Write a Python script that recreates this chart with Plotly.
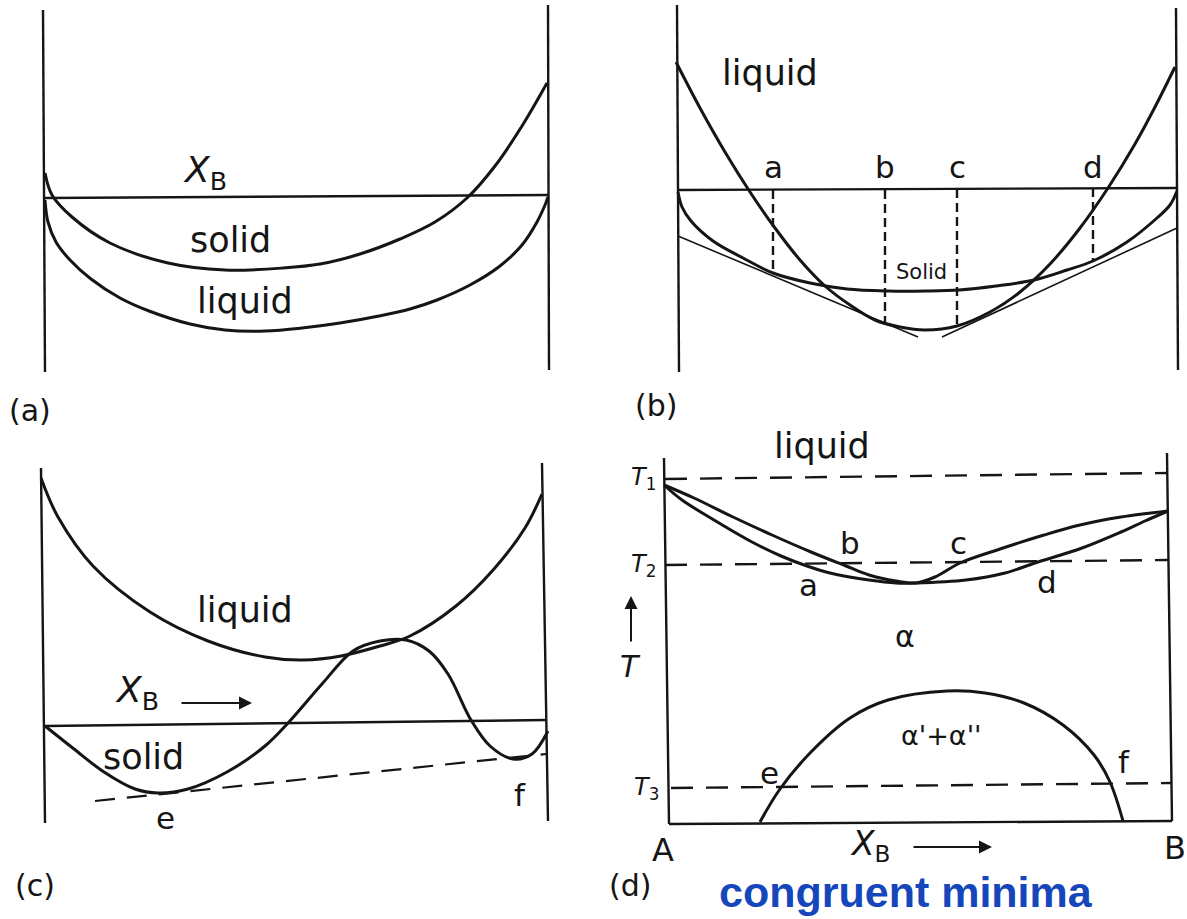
import plotly.graph_objects as go

W, H = 1187, 919
INK = "#151515"
BLUE = "#1546BC"
FONT = "DejaVu Sans"

# ---------------- panel (a): solid and liquid free-energy curves ----------------
a_left_x, a_left_y = [43, 45], [10, 372]
a_right_x, a_right_y = [548, 549], [5, 370]
a_base_x, a_base_y = [45, 548], [198, 195]
a_solid_x = [45, 52, 72, 110, 168, 225, 283, 320, 360, 400, 435, 467, 495, 522, 547]
a_solid_y = [173, 195, 217, 243, 263, 270, 268, 264, 254, 239, 222, 198, 166, 126, 83]
a_liquid_x = [45, 48, 56, 70, 91, 120, 149, 190, 225, 265, 302, 340, 379, 410,
              437, 470, 500, 522, 537, 545, 548]
a_liquid_y = [200, 222, 242, 260, 279, 298, 311, 324, 330, 331, 328, 323, 316, 309,
              300, 285, 266, 245, 222, 205, 197]

# ---------------- panel (b): common tangents a-b and c-d ----------------
b_left_x, b_left_y = [677, 679], [5, 372]
b_right_x, b_right_y = [1176, 1178], [8, 370]
b_base_x, b_base_y = [678, 1177], [190, 188]
b_liquid_x = [676, 700, 725, 750, 775, 800, 825, 850, 875, 900, 925,
              957, 990, 1020, 1050, 1080, 1108, 1135, 1155, 1175]
b_liquid_y = [62, 108, 152, 192, 228, 260, 286, 305, 320, 327, 330,
              326, 312, 292, 264, 228, 188, 144, 107, 67]
b_solid_x = [678, 682, 691, 713, 743, 773, 810, 847, 888, 926, 959, 996,
             1034, 1067, 1093, 1127, 1157, 1170, 1177]
b_solid_y = [192, 207, 221, 241, 258, 273, 283, 289, 291, 291, 290, 286,
             280, 270, 261, 242, 218, 205, 191]
b_tan1_x, b_tan1_y = [678, 918], [236, 337]
b_tan2_x, b_tan2_y = [1177, 942], [228, 337]
b_drop_x = [773, 885, 957, 1093]
b_drop_top = [190, 190, 189, 188]
b_drop_bottom = [273, 322, 326, 261]
b_drop_labels = ["a", "b", "c", "d"]

# ---------------- panel (c): solid curve with two minima ----------------
c_left_x, c_left_y = [41, 45], [468, 823]
c_right_x, c_right_y = [542, 548], [463, 821]
c_base_x, c_base_y = [45, 546], [726, 720]
c_liquid_x = [41, 58, 93, 150, 208, 265, 303, 341, 380, 410, 456, 494, 525, 542]
c_liquid_y = [478, 517, 566, 612, 641, 657, 660, 656, 646, 636, 606, 569, 528, 494]
c_solid_x = [45, 74, 104, 135, 158, 188, 227, 265, 288, 322, 353, 380, 406,
             429, 448, 471, 490, 513, 532, 548]
c_solid_y = [726, 749, 772, 789, 793, 789, 772, 746, 723, 684, 651, 641, 640,
             651, 674, 720, 746, 759, 754, 731]
c_tan_x, c_tan_y = [95, 546], [801, 754]

# ---------------- panel (d): phase diagram with congruent minimum ----------------
d_left_x, d_left_y = [664, 669], [458, 824]
d_right_x, d_right_y = [1167, 1172], [453, 821]
d_bottom_x, d_bottom_y = [669, 1172], [824, 821]
d_iso_x0 = [665, 665, 671]
d_iso_x1 = [1168, 1168, 1172]
d_iso_y0 = [479, 565, 788]
d_iso_y1 = [473, 560, 783]
d_upper_x = [664, 694, 733, 772, 811, 846, 869, 896, 916, 935, 960, 1000,
             1044, 1080, 1121, 1168]
d_upper_y = [485, 498, 517, 535, 552, 566, 575, 581, 583, 577, 563, 549,
             535, 525, 517, 511]
d_lower_x = [664, 682, 714, 752, 781, 807, 830, 869, 896, 916, 966, 1005,
             1035, 1082, 1121, 1145, 1168]
d_lower_y = [485, 500, 520, 542, 556, 566, 573, 580, 583, 583, 580, 573,
             563, 548, 532, 521, 511]
d_dome_x = [760, 780, 811, 850, 888, 947, 985, 1024, 1063, 1094, 1110, 1123]
d_dome_y = [822, 789, 752, 718, 700, 691, 693, 703, 725, 755, 782, 821]

fig = go.Figure()


def line(x, y, width=2.6, dash=None, smooth=False):
    fig.add_trace(go.Scatter(
        x=x, y=y, mode="lines", hoverinfo="skip", showlegend=False,
        line=dict(color=INK, width=width, dash=dash,
                  shape="spline" if smooth else "linear",
                  smoothing=1.0 if smooth else None),
    ))


# frames and reference lines
for fx, fy in [(a_left_x, a_left_y), (a_right_x, a_right_y),
               (b_left_x, b_left_y), (b_right_x, b_right_y),
               (c_left_x, c_left_y), (c_right_x, c_right_y),
               (d_left_x, d_left_y), (d_right_x, d_right_y),
               (d_bottom_x, d_bottom_y)]:
    line(fx, fy, width=2.4)
line(a_base_x, a_base_y, width=2.4)
line(b_base_x, b_base_y, width=2.4)
line(c_base_x, c_base_y, width=2.4)

# panel (a) curves
line(a_solid_x, a_solid_y, width=3, smooth=True)
line(a_liquid_x, a_liquid_y, width=3, smooth=True)

# panel (b) curves, tangents and drop lines
line(b_liquid_x, b_liquid_y, width=3, smooth=True)
line(b_solid_x, b_solid_y, width=3, smooth=True)
line(b_tan1_x, b_tan1_y, width=1.6)
line(b_tan2_x, b_tan2_y, width=1.6)
for dx, dt, db in zip(b_drop_x, b_drop_top, b_drop_bottom):
    line([dx, dx], [dt, db], width=2.4, dash="9px,5px")

# panel (c) curves
line(c_liquid_x, c_liquid_y, width=3, smooth=True)
line(c_solid_x, c_solid_y, width=3, smooth=True)
line(c_tan_x, c_tan_y, width=2.2, dash="20px,12px")

# panel (d) curves
for x0, x1, y0, y1 in zip(d_iso_x0, d_iso_x1, d_iso_y0, d_iso_y1):
    line([x0, x1], [y0, y1], width=2.4, dash="22px,13px")
line(d_upper_x, d_upper_y, width=3, smooth=True)
line(d_lower_x, d_lower_y, width=3, smooth=True)
line(d_dome_x, d_dome_y, width=3, smooth=True)

# ---------------- text ----------------
ann = []


def label(x, y, text, size=34, family=FONT, color=INK, bold=False):
    ann.append(dict(x=x, y=y, xref="x", yref="y", text=f"<b>{text}</b>" if bold else text,
                    showarrow=False, font=dict(family=family, size=size, color=color),
                    xanchor="center", yanchor="middle"))


def arrow(x0, y0, x1, y1):
    ann.append(dict(x=x1, y=y1, ax=x0, ay=y0, xref="x", yref="y", axref="x", ayref="y",
                    text="", showarrow=True, arrowhead=2, arrowsize=1.3,
                    arrowwidth=2, arrowcolor=INK, font=dict(size=12)))


XB = "<i>X</i><sub>B</sub>"

# (a)
label(205, 172, XB, size=36)
label(230, 240, "solid", size=35)
label(245, 301, "liquid", size=35)
label(30, 410, "(a)", size=30)

# (b)
label(770, 73, "liquid", size=35)
for dx, name in zip(b_drop_x, b_drop_labels):
    label(dx, 167, name, size=31)
label(921, 272, "Solid", size=21)
label(656, 405, "(b)", size=30)

# (c)
label(245, 610, "liquid", size=35)
label(137, 692, XB, size=36)
arrow(180, 703, 252, 703)
label(143, 757, "solid", size=35)
label(165, 818, "e", size=31)
label(520, 795, "f", size=31)
label(35, 885, "(c)", size=30)

# (d)
label(822, 446, "liquid", size=35)
label(643, 478, "<i>T</i><sub>1</sub>", size=24)
label(643, 565, "<i>T</i><sub>2</sub>", size=24)
label(646, 788, "<i>T</i><sub>3</sub>", size=24)
arrow(631, 643, 631, 596)
label(630, 666, "<i>T</i>", size=30)
label(850, 543, "b", size=31)
label(958, 543, "c", size=31)
label(808, 585, "a", size=31)
label(1047, 582, "d", size=31)
label(905, 636, "α", size=30)
label(941, 735, "α'+α''", size=27)
label(769, 773, "e", size=31)
label(1124, 762, "f", size=31)
label(663, 850, "A", size=32)
label(1175, 848, "B", size=32)
label(870, 845, XB, size=33)
arrow(912, 847, 992, 847)
label(630, 885, "(d)", size=30)
label(906, 892, "congruent minima", size=43, family="Liberation Sans", color=BLUE, bold=True)

fig.update_layout(
    width=W, height=H,
    margin=dict(l=0, r=0, t=0, b=0),
    paper_bgcolor="white", plot_bgcolor="white",
    xaxis=dict(range=[0, W], visible=False, fixedrange=True),
    yaxis=dict(range=[H, 0], visible=False, fixedrange=True),
    annotations=ann,
    showlegend=False,
)

fig.write_html("out.html", config={"displayModeBar": False})
